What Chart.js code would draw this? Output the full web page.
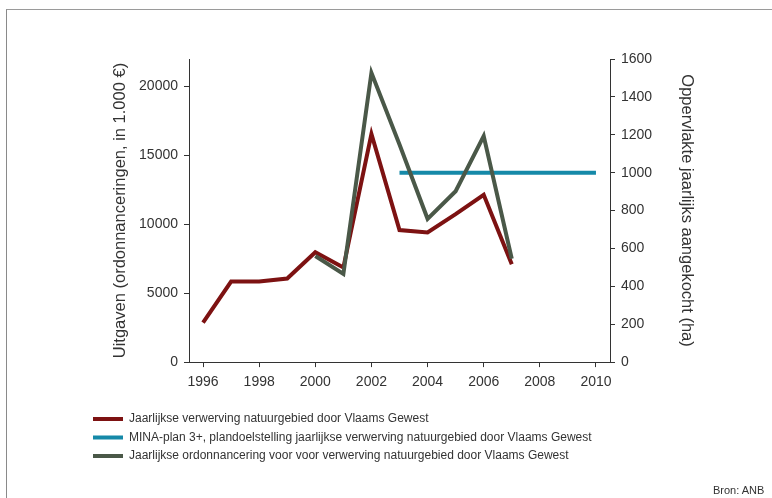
<!DOCTYPE html>
<html>
<head>
<meta charset="utf-8">
<script src="https://cdn.jsdelivr.net/npm/chart.js@4.4.1/dist/chart.umd.min.js"></script>
<style>
  html, body { margin: 0; padding: 0; background: #fff; }
  #wrap { position: relative; width: 772px; height: 498px; overflow: hidden; }
  #frame { position: absolute; left: 6px; top: 9px; right: -5px; bottom: -5px;
           border-top: 1px solid #9a9a9a; border-left: 1px solid #8a8a8a; }
  canvas { position: absolute; left: 0; top: 0; }
  #source { position: absolute; left: 713px; top: 484px; font: 11px "Liberation Sans", Arial, sans-serif; color: #333; white-space: nowrap; }
</style>
</head>
<body>
<div id="wrap">
  <div id="frame"></div>
  <canvas id="c" width="772" height="498"></canvas>
  <div id="source">Bron: ANB</div>
</div>
<script>
// ---- data ----
const years = [1996, 1997, 1998, 1999, 2000, 2001, 2002, 2003, 2004, 2005, 2006, 2007];
// Jaarlijkse verwerving natuurgebied (ha, right axis)
const verwervingHa = [208, 425, 425, 441, 580, 499, 1204, 697, 684, 781, 883, 517];
// Jaarlijkse ordonnancering (1.000 €, left axis), from 2000
const ordYears = [2000, 2001, 2002, 2003, 2004, 2005, 2006, 2007];
const ordonnancering = [7700, 6400, 21000, 15800, 10400, 12400, 16400, 7500];
// MINA-plan 3+ target (ha)
const minaYears = [2003, 2010];
const minaHa = [1000, 1000];
const xTicks = [1996, 1998, 2000, 2002, 2004, 2006, 2008, 2010];
const leftTicks = [0, 5000, 10000, 15000, 20000];
const rightTicks = [0, 200, 400, 600, 800, 1000, 1200, 1400, 1600];

const labels = [
  'Jaarlijkse verwerving natuurgebied door Vlaams Gewest',
  'MINA-plan 3+, plandoelstelling jaarlijkse verwerving natuurgebied door Vlaams Gewest',
  'Jaarlijkse ordonnancering voor voor verwerving natuurgebied door Vlaams Gewest'
];
const colors = ['#7d1212', '#1589a8', '#4a5848'];

const pts = (xs, ys) => xs.map((x, i) => ({x: x, y: ys[i]}));
const FONT = '"Liberation Sans", Arial, sans-serif';
const TXT = '#333';
const tickFont = { family: FONT, size: 14 };

new Chart(document.getElementById('c'), {
  type: 'line',
  data: {
    datasets: [
      { label: labels[0], data: pts(years, verwervingHa), yAxisID: 'yR', borderColor: colors[0], backgroundColor: colors[0], borderWidth: 4, pointRadius: 0, order: 3, tension: 0 },
      { label: labels[1], data: pts(minaYears, minaHa), yAxisID: 'yR', borderColor: colors[1], backgroundColor: colors[1], borderWidth: 4, pointRadius: 0, order: 2, tension: 0 },
      { label: labels[2], data: pts(ordYears, ordonnancering), yAxisID: 'yL', borderColor: colors[2], backgroundColor: colors[2], borderWidth: 4, pointRadius: 0, order: 1, tension: 0 }
    ]
  },
  options: {
    responsive: false,
    animation: false,
    devicePixelRatio: 1,
    layout: { padding: { left: 86.5, right: 70, top: 59, bottom: 26 } },
    plugins: {
      tooltip: { enabled: false },
      legend: {
        position: 'bottom',
        align: 'start',
        labels: {
          boxWidth: 30,
          boxHeight: 4,
          padding: 6.5,
          color: TXT,
          font: { family: FONT, size: 12 },
          generateLabels: (chart) => chart.data.datasets.map((ds, i) => ({
            text: ds.label, fillStyle: ds.borderColor, strokeStyle: ds.borderColor,
            lineWidth: 0, hidden: false, datasetIndex: i, fontColor: TXT
          }))
        }
      }
    },
    scales: {
      x: {
        type: 'linear', min: 1995.5, max: 2010.5,
        afterBuildTicks: (s) => { s.ticks = xTicks.map(v => ({value: v})); },
        afterFit: (s) => { s.height = 44.4; },
        ticks: { color: TXT, font: tickFont, padding: 7, maxRotation: 0, callback: (v) => String(v) },
        grid: { drawOnChartArea: false, drawTicks: true, tickLength: 5, color: '#333' },
        border: { color: '#333', width: 1 }
      },
      yL: {
        type: 'linear', position: 'left', min: 0, max: 22000,
        afterBuildTicks: (s) => { s.ticks = leftTicks.map(v => ({value: v})); },
        afterFit: (s) => { s.width = 102.5; },
        ticks: { color: TXT, font: tickFont, padding: 6, callback: (v) => String(v) },
        grid: { drawOnChartArea: false, drawTicks: true, tickLength: 5, color: '#333' },
        border: { color: '#333', width: 1 },
        title: { display: true, text: 'Uitgaven (ordonnanceringen, in 1.000 €)', color: TXT, font: { family: FONT, size: 16.5 }, padding: { top: 24, bottom: 4 } }
      },
      yR: {
        type: 'linear', position: 'right', min: 0, max: 1600,
        afterBuildTicks: (s) => { s.ticks = rightTicks.map(v => ({value: v})); },
        afterFit: (s) => { s.width = 92; },
        ticks: { color: TXT, font: tickFont, padding: 6, callback: (v) => String(v) },
        grid: { drawOnChartArea: false, drawTicks: true, tickLength: 5, color: '#333' },
        border: { color: '#333', width: 1 },
        title: { display: true, text: 'Oppervlakte jaarlijks aangekocht (ha)', color: TXT, font: { family: FONT, size: 16.5 }, padding: { top: 6, bottom: 4 } }
      }
    }
  }
});
</script>
</body>
</html>
